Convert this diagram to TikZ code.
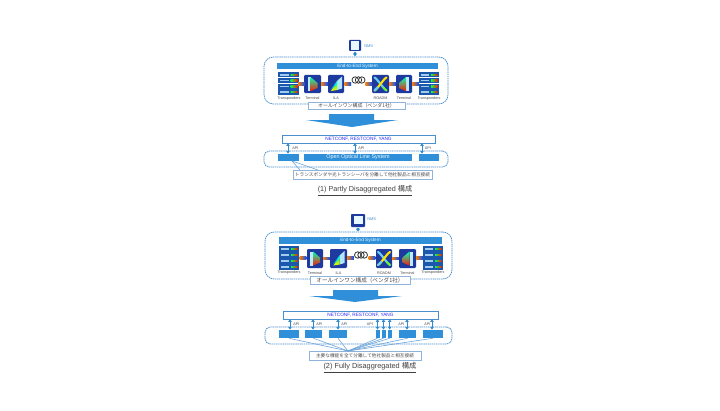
\documentclass[tikz,border=0pt]{standalone}
\usepackage{fontspec}
\setmainfont{Liberation Sans}
\newfontfamily\jp{Noto Sans CJK JP}
\usetikzlibrary{calc,arrows.meta}
\definecolor{barblue}{HTML}{2F8FD8}
\definecolor{dashblue}{HTML}{4A8FCF}
\definecolor{navy}{HTML}{1F3A9E}
\definecolor{lightline}{HTML}{8FB4DC}
\definecolor{apiblue}{HTML}{2E8BD0}
\tikzset{
 x=0.75pt,y=-0.75pt,
 grpbox/.style={draw=dashblue,dash pattern=on 1.1pt off 0.5pt,line width=0.55pt,rounded corners=7pt,fill=none},
 grpsmall/.style={grpbox,rounded corners=4pt},
 barbox/.style={fill=barblue,draw=none,text=white!92!cyan,font=\fontsize{3.5}{4}\selectfont,inner sep=0pt},
 devcap/.style={font=\fontsize{2.8}{3}\selectfont,text=black!70,inner sep=0pt},
 labbox/.style={draw=lightline,fill=white,line width=0.5pt,inner sep=0pt,text=black!70},
 apibox/.style={draw=dashblue,fill=white,line width=0.6pt,inner sep=0pt,text=blue!85,font=\fontsize{3.55}{4}\selectfont},
 apiarrow/.style={{Latex[length=2.2pt,width=3pt]}-{Latex[length=2.2pt,width=3pt]},draw=apiblue,line width=0.75pt},
 apitext/.style={font=\fontsize{2.8}{3}\selectfont,text=black!70,inner sep=0pt,anchor=west},
 leaderline/.style={draw=dashblue!80,line width=0.45pt},
 fiber/.style={draw=orange,line width=0.5pt},
 rainbow/.style={minimum width=5.2pt,minimum height=2.2pt,inner sep=0pt,shading=axis,left color=orange,middle color=green!70!black,right color=blue!70!cyan,shading angle=90},
 devbox/.style={fill=navy,draw=none,rounded corners=0.8pt,inner sep=0pt},
 nmstext/.style={font=\fontsize{3}{3}\selectfont,text=dashblue,inner sep=0pt,anchor=west},
 bigarrow/.style={fill=barblue,draw=none},
 captext/.style={text=black!75,inner sep=0pt},
}
\newcommand{\boxat}[7]{\path let \n1={#4-#2},\n2={#5-#3} in node[#6,minimum width=\n1*0.75pt,minimum height=\n2*0.75pt] (#1) at ({(#2+#4)/2},{(#3+#5)/2}) {#7};}
\newcommand{\xpdr}[5]{%
 \boxat{#1}{#2}{#3}{#4}{#5}{draw=none,inner sep=0pt}{}
 \foreach \i in {0,1,2,3}{
  \pgfmathsetmacro\ya{#3+\i*(#5-#3)/4+0.2}
  \pgfmathsetmacro\yb{\ya+(#5-#3)/4-0.5}
  \fill[navy!85!cyan] (#2,\ya) rectangle (#4,\yb);
  \pgfmathsetmacro\xm{#2+2}
  \pgfmathsetmacro\xn{#2+(#4-#2)*0.52}
  \pgfmathsetmacro\xo{#2+(#4-#2)*0.6}
  \pgfmathsetmacro\xp{#4-1.5}
  \pgfmathsetmacro\yc{(\ya+\yb)/2-0.7}
  \pgfmathsetmacro\yd{(\ya+\yb)/2+0.7}
  \fill[white!70!cyan!90!blue] (\xm,\yc) rectangle (\xn,\yd);
  \shade[left color=green!70!cyan,middle color=yellow,right color=red!80!orange] (\xo,\yc) rectangle (\xp,\yd);
 }}
\newcommand{\termicon}[6]{%
 \boxat{#1}{#2}{#3}{#4}{#5}{devbox}{}
 \begin{scope}[shift={(#1.center)},xscale=#6]
  \fill[white!75!cyan] (-5,-7) -- (-2,-7) -- (-2,7) -- (-5,7) -- cycle;
  \shade[top color=cyan!70!green,middle color=yellow!90!green,bottom color=red!80!orange] (-2,-7) -- (5,-1) -- (5,4) -- (-2,7) -- cycle;
 \end{scope}}
\newcommand{\ilaicon}[5]{%
 \boxat{#1}{#2}{#3}{#4}{#5}{devbox}{}
 \begin{scope}[shift={(#1.center)}]
  \fill[white!70!cyan] (6,-7.5) -- (6,4.5) -- (1,6) -- (1,-3) -- cycle;
  \shade[top color=green!70!cyan,bottom color=yellow!90!orange] (1,-3) -- (1,6) -- (-5,7) -- cycle;
  \shade[left color=blue!60!cyan,right color=cyan] (-6.5,7) -- (1,-3) -- (1,0) -- cycle;
 \end{scope}}
\newcommand{\roadmicon}[5]{%
 \boxat{#1}{#2}{#3}{#4}{#5}{devbox}{}
 \begin{scope}[shift={(#1.center)},line width=1.6pt,line cap=round]
  \draw[cyan!60!white] (-6,-6.5) .. controls (-3,-5) and (3,5) .. (6,6.5);
  \draw[yellow!85!orange] (-6,6.5) .. controls (-3,5) and (3,-5) .. (6,-6.5);
  \draw[cyan!60!white] (-6,6.5) -- (-3,3.5);
  \draw[green!60!yellow,line width=1.1pt] (6,6.5) -- (3,3.5);
 \end{scope}}
\newcommand{\coil}[3]{%
 \node[draw=none,minimum width=10.5pt,minimum height=4.5pt,inner sep=0pt] (#1) at (#2,#3) {};
 \begin{scope}[shift={(#1.center)}]
  \foreach \dx in {-3.3,0,3.3}{\draw[black!80,line width=0.6pt] (\dx,0) ellipse (3.2 and 3.2);}
 \end{scope}}
\begin{document}
\begin{tikzpicture}
\useasboundingbox (0,0) rectangle (720,410);
\fill[white] (0,0) rectangle (720,410);

%%% ---- block 1
\boxat{mona}{349}{40}{361}{51}{fill=navy,rounded corners=0.7pt}{}
\boxat{monai}{351.5}{42.5}{358.5}{48}{fill=white!90!cyan}{}
\node[nmstext] (nmsa) at (364,46) {NMS};
\boxat{grpa}{264}{57}{448}{104}{grpbox}{}
\draw[apiarrow] (mona.south) -- (grpa.north -| mona.south);
\boxat{e2ea}{277}{63}{438}{69.5}{barbox}{End-to-End System}
\xpdr{tla}{278}{72}{299}{95}
\termicon{teal}{304}{75}{321}{93}{1}
\ilaicon{ilaa}{328}{75}{344}{93}
\coil{coila}{358.5}{80}
\roadmicon{roaa}{372}{75}{389}{93}
\termicon{tera}{396}{75}{412}{93}{-1}
\xpdr{tra}{419}{72}{439}{95}
\draw[fiber] (tla.east) -- node[rainbow]{} (teal.west);
\draw[fiber] (teal.east) -- node[rainbow]{} (ilaa.west);
\draw[fiber] (ilaa.east) -- node[rainbow]{} (coila.south west);
\draw[fiber] (coila.south east) -- node[rainbow]{} (roaa.west);
\draw[fiber] (roaa.east) -- node[rainbow]{} (tera.west);
\draw[fiber] (tera.east) -- node[rainbow]{} (tra.west);
\node[devcap] (c1) at (289,98.5) {Transponders};
\node[devcap] (c2) at (312.5,98.5) {Terminal};
\node[devcap] (c3) at (336,98.5) {ILA};
\node[devcap] (c4) at (380.5,98.5) {ROADM};
\node[devcap] (c5) at (404,98.5) {Terminal};
\node[devcap] (c6) at (429,98.5) {Transponders};
\boxat{laba}{308}{102}{405}{109}{labbox,font=\fontsize{3.7}{4}\jp}{オールインワン構成（ベンダ1社）}

\fill[bigarrow] (329,114) -- (374,114) -- (374,120) -- (398,120) -- (352,127) -- (306,120) -- (329,120) -- cycle;

\boxat{neta}{282}{135}{435}{143}{apibox}{NETCONF, RESTCONF, YANG}
\boxat{olsg}{264}{151}{448}{167}{grpsmall}{}
\boxat{ba1}{278}{154}{299}{161}{barbox}{}
\boxat{ba2}{304}{154}{412}{161}{barbox,font=\fontsize{4.1}{4}\selectfont}{Open Optical Line System}
\boxat{ba3}{419}{154}{439}{161}{barbox}{}
\coordinate (pa1) at (288,143);
\coordinate (pa2) at (355,143);
\coordinate (pa3) at (422,143);
\draw[apiarrow] (pa1) -- (ba1.north -| pa1);
\draw[apiarrow] (pa2) -- (ba2.north -| pa2);
\draw[apiarrow] (pa3) -- (ba3.north -| pa3);
\node[apitext] (ta1) at (292,148) {API};
\node[apitext] (ta2) at (358,148) {API};
\node[apitext] (ta3) at (424.5,148) {API};
\boxat{labb}{293}{170}{432}{179}{labbox,font=\fontsize{3.5}{4}\jp}{トランスポンダや光トランシーバを分離して他社製品と相互接続}
\coordinate (la1) at (292,161);
\coordinate (la2) at (318,170);
\coordinate (la3) at (300,170);
\draw[leaderline] (la1) -- (la2);
\draw[leaderline] (la1) -- (la3);
\node[captext,font=\fontsize{5.4}{6}\selectfont] (cap1) at (365,191) {\underline{(1) Partly Disaggregated \smash{\jp 構成}}};

%%% ---- block 2
\boxat{monb}{351}{214}{365}{227}{fill=navy,rounded corners=0.7pt}{}
\boxat{monbi}{353.5}{216.5}{362.5}{223.5}{fill=white!90!cyan}{}
\node[nmstext] (nmsb) at (367,219) {NMS};
\boxat{grpb}{265}{232}{452}{279}{grpbox}{}
\draw[apiarrow] (monb.south) -- (monb.south |- grpb.north);
\boxat{e2eb}{279}{237}{442}{244}{barbox}{End-to-End System}
\xpdr{tlb}{279}{246}{299}{270}
\termicon{telb}{307}{249}{323}{268}{1}
\ilaicon{ilab}{330}{249}{347}{268}
\coil{coilb}{361}{255}
\roadmicon{roab}{376}{249}{392}{268}
\termicon{terb}{399}{249}{416}{268}{-1}
\xpdr{trb}{423}{246}{443}{270}
\draw[fiber] (tlb.east) -- node[rainbow]{} (telb.west);
\draw[fiber] (telb.east) -- node[rainbow]{} (ilab.west);
\draw[fiber] (ilab.east) -- node[rainbow]{} (coilb.south west);
\draw[fiber] (coilb.south east) -- node[rainbow]{} (roab.west);
\draw[fiber] (roab.east) -- node[rainbow]{} (terb.west);
\draw[fiber] (terb.east) -- node[rainbow]{} (trb.west);
\node[devcap] (d1) at (289,273) {Transponders};
\node[devcap] (d2) at (315,273) {Terminal};
\node[devcap] (d3) at (338.5,273) {ILA};
\node[devcap] (d4) at (384,273) {ROADM};
\node[devcap] (d5) at (407.5,273) {Terminal};
\node[devcap] (d6) at (433,273) {Transponders};
\boxat{labc}{310}{276}{410}{284}{labbox,font=\fontsize{4.2}{4}\jp}{オールインワン構成（ベンダ1社）}

\fill[bigarrow] (333,290) -- (378,290) -- (378,296) -- (402,296) -- (355,302) -- (309,296) -- (333,296) -- cycle;

\boxat{netb}{283}{311}{438}{319}{apibox}{NETCONF, RESTCONF, YANG}
\boxat{grpc}{265}{327}{452}{344}{grpsmall}{}
\boxat{bb1}{279}{330}{299}{338}{barbox}{}
\boxat{bb2}{305}{330}{322}{338}{barbox}{}
\boxat{bb3}{329}{330}{347}{338}{barbox}{}
\boxat{bb4}{375.5}{330}{379.5}{338}{barbox}{}
\boxat{bb5}{381.5}{330}{385.5}{338}{barbox}{}
\boxat{bb6}{387.5}{330}{392}{338}{barbox}{}
\boxat{bb7}{399}{330}{416}{338}{barbox}{}
\boxat{bb8}{423}{330}{443}{338}{barbox}{}
\draw[apiarrow] (290,319) coordinate (q1) -- (bb1.north -| q1);
\draw[apiarrow] (313,319) coordinate (q2) -- (bb2.north -| q2);
\draw[apiarrow] (338,319) coordinate (q3) -- (bb3.north -| q3);
\draw[apiarrow] (377.5,319) coordinate (q4) -- (bb4.north -| q4);
\draw[apiarrow] (383.5,319) coordinate (q5) -- (bb5.north -| q5);
\draw[apiarrow] (389.7,319) coordinate (q6) -- (bb6.north -| q6);
\draw[apiarrow] (407,319) coordinate (q7) -- (bb7.north -| q7);
\draw[apiarrow] (432,319) coordinate (q8) -- (bb8.north -| q8);
\node[apitext] (u1) at (293,324) {API};
\node[apitext] (u2) at (316,324) {API};
\node[apitext] (u3) at (341,324) {API};
\node[apitext] (u4) at (366.5,324) {API};
\node[apitext] (u5) at (398,324) {API};
\node[apitext] (u6) at (424,324) {API};
\boxat{labd}{309}{351}{421}{360}{labbox,font=\fontsize{3.5}{4}\jp}{主要な機能を全て分離して他社製品と相互接続}
\coordinate (hub) at (348,351);
\foreach \b in {bb1,bb2,bb3,bb4,bb5,bb6,bb7,bb8}{\draw[leaderline] (hub) -- (\b.south);}
\node[captext,font=\fontsize{5.5}{6}\selectfont] (cap2) at (370,368) {\underline{(2) Fully Disaggregated \smash{\jp 構成}}};
\end{tikzpicture}
\end{document}
